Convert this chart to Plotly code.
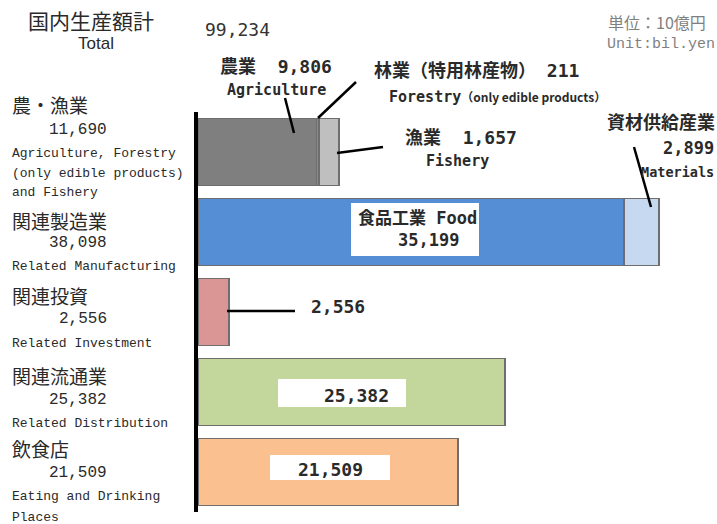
import plotly.graph_objects as go

# ---------------- data ----------------
row_ids = [0, 1, 2, 3, 4]
segments = ["農業", "林業", "漁業", "食品工業", "資材供給産業", "関連投資", "関連流通業", "飲食店"]
segment_row = [0, 0, 0, 1, 1, 2, 3, 4]
segment_values = [9806, 211, 1657, 35199, 2899, 2556, 25382, 21509]
segment_colors = ["#7f7f7f", "#8c8c8c", "#bfbfbf", "#558ed5", "#c6d9f1", "#d99694", "#c3d69b", "#fac090"]

row_jp = ["農・漁業", "関連製造業", "関連投資", "関連流通業", "飲食店"]
row_totals = ["11,690", "38,098", "2,556", "25,382", "21,509"]
row_en = [["Agriculture, Forestry", "(only edible products)", "and Fishery"],
          ["Related Manufacturing"],
          ["Related Investment"],
          ["Related Distribution"],
          ["Eating and Drinking", "Places"]]
grand_total = "99,234"

W, H = 717, 524
L, R, T, B = 198, 0, 112, 12
PW, PH = W - L - R, H - T - B
XMAX = 42900

def px(x):
    return (x - L) / PW

def py(y):
    return 1 - (y - T) / PH

fig = go.Figure()
for name, r, v, c in zip(segments, segment_row, segment_values, segment_colors):
    fig.add_trace(go.Bar(
        y=[r], x=[v], orientation="h", name=name, width=0.84,
        marker=dict(color=c, line=dict(color="#6e6e6e", width=1.5)),
        hoverinfo="skip", showlegend=False))

ann = []
shapes = []
JP = "Noto Sans CJK JP"
MONO = "Liberation Mono"
BOLD = "DejaVu Sans Mono, Noto Sans CJK JP"
DARK = "#2a2a2a"

def text(x, y, t, size, family, color=DARK, xanchor="left", bold=False):
    ann.append(dict(x=px(x), y=py(y), xref="paper", yref="paper", text=("<b>%s</b>" % t) if bold else t,
                    showarrow=False, xanchor=xanchor, yanchor="middle",
                    font=dict(size=size, family=family, color=color)))

# left labels
jp_y = [104, 220, 295, 375, 448]
num_y = [130, 243, 319, 400, 473]
en_y = [[153, 173, 192], [266], [343], [423], [496, 517]]
for i in range(5):
    text(10, jp_y[i], row_jp[i], 19, JP)
    text(109, num_y[i], row_totals[i], 16, MONO, xanchor="right")
    for s, yy in zip(row_en[i], en_y[i]):
        text(10, yy, s, 13, MONO)

# header
text(91, 20, "国内生産額計", 21, JP, xanchor="center")
text(96, 43, "Total", 17, "Liberation Sans", xanchor="center")
text(203, 29, grand_total, 18, "DejaVu Sans Mono", color="#333333")
text(606, 22, "単位：10億円", 16, JP, color="#7f7f7f")
text(605, 44, "Unit:bil.yen", 15, MONO, color="#7f7f7f")

# bold labels
text(276, 67, "農業  %s" % f"{segment_values[0]:,}", 18, BOLD, xanchor="center", bold=True)
text(276, 90, "Agriculture", 15, BOLD, xanchor="center", bold=True)
text(372, 70, "林業（特用林産物） %s" % segment_values[1], 18, BOLD, bold=True)
text(387, 97, "Forestry<span style='font-family:Noto Sans CJK JP;font-size:12px'>（only edible products）</span>",
     15, BOLD, bold=True)
text(403, 137, "漁業  %s" % f"{segment_values[2]:,}", 18, BOLD, bold=True)
text(457, 161, "Fishery", 15, BOLD, xanchor="center", bold=True)
text(605, 123, "資材供給産業", 18, BOLD, bold=True)
text(716, 148, f"{segment_values[4]:,}", 17, BOLD, xanchor="right", bold=True)
text(716, 172, "Materials", 13.5, BOLD, xanchor="right", bold=True)

# white boxes
for x0, y0, x1, y1 in [(351, 203, 479, 256), (278, 379, 406, 407), (270, 455, 390, 480)]:
    shapes.append(dict(type="rect", xref="paper", yref="paper", x0=px(x0), x1=px(x1), y0=py(y0), y1=py(y1),
                       fillcolor="white", line=dict(width=0)))
text(356, 218, "食品工業 Food", 17, BOLD, bold=True)
text(428, 240, f"{segment_values[3]:,}", 17, BOLD, xanchor="center", bold=True)
text(356, 395, f"{segment_values[6]:,}", 18, BOLD, xanchor="center", bold=True)
text(330, 469, f"{segment_values[7]:,}", 18, BOLD, xanchor="center", bold=True)
text(338, 306, f"{segment_values[5]:,}", 18, BOLD, xanchor="center", bold=True)

# leader lines
for x0, y0, x1, y1 in [(285, 98, 294, 133), (318, 118, 356, 82), (337, 153, 383, 147),
                       (634, 147, 651, 207), (227, 311, 295, 311)]:
    shapes.append(dict(type="line", xref="paper", yref="paper", x0=px(x0), x1=px(x1), y0=py(y0), y1=py(y1),
                       line=dict(color="black", width=2.5)))

fig.update_layout(
    width=W, height=H, margin=dict(l=L, r=R, t=T, b=B),
    barmode="stack", plot_bgcolor="white", paper_bgcolor="white",
    xaxis=dict(range=[0, XMAX], visible=False, fixedrange=True),
    yaxis=dict(range=[4.5, -0.5], showticklabels=False, showgrid=False, zeroline=False,
               showline=True, linewidth=4, linecolor="black", ticks="", fixedrange=True),
    annotations=ann, shapes=shapes, showlegend=False,
)
fig.write_html("out.html", config=dict(displayModeBar=False),
               post_script="document.body.style.margin='0';document.body.style.overflow='hidden';")
